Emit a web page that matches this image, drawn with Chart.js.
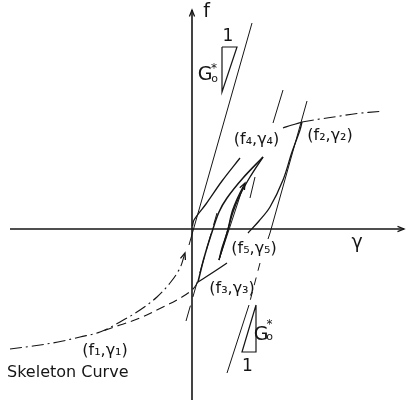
<!DOCTYPE html>
<html>
<head>
<meta charset="utf-8">
<script src="https://cdn.jsdelivr.net/npm/chart.js@4/dist/chart.umd.min.js"></script>
<style>
  html, body { margin: 0; padding: 0; background: #fff; }
  #wrap { width: 408px; height: 414px; }
</style>
</head>
<body>
<div id="wrap"><canvas id="c" width="408" height="414"></canvas></div>
<script>
// Shear strain γ on x, shear stress f on y (drawing units).

// axes
const xAxisLine = [[-18.2, 0], [21.2, 0]];
const yAxisLine = [[0, -17.1], [0, 21.9]];

// skeleton curve: solid branch from the origin up to (f2,γ2)
const skeletonLowA = [[0.05, 0.3], [0.2, 0.9], [1.4, 2.5], [3.0, 4.8], [4.8, 7.1]];
const skeletonLowB = [[9.1, 10.1], [10.0, 10.4], [11.0, 10.7]];
// skeleton curve: dash-dot continuations
const skeletonUpper = [[11.0, 10.7], [12.8, 11.0], [14.5, 11.25], [16.5, 11.55], [18.8, 11.75]];
const skeletonLower = [[-18.2, -12.0], [-15.9, -11.7], [-13.4, -11.3], [-11.2, -10.8], [-9.2, -10.3],
                       [-7.2, -9.3], [-5.2, -8.1], [-3.5, -6.8], [-2.2, -5.4], [-1.2, -3.9], [-0.7, -2.4]];

// unloading from (f2,γ2) to (f3,γ3), then its dashed extension to (f1,γ1)
const unloadF2a = [[11.0, 10.7], [10.8, 9.9], [10.0, 7.7], [9.1, 4.9], [7.8, 2.2], [6.7, 0.8], [5.6, -0.4]];
const unloadF2b = [[3.5, -3.4], [2.0, -4.4], [0.6, -5.3]];
const towardF1  = [[0.6, -5.3], [0.1, -6.0], [-1.0, -6.8], [-2.9, -7.8], [-5.2, -8.9], [-7.2, -9.6], [-9.2, -10.3]];

// reloading (f3) -> (f4), unloading (f4) -> (f5), reloading from (f5)
const reloadF3 = [[0.6, -5.3], [1.2, -2.9], [1.9, -0.6], [2.7, 1.7], [3.5, 3.1], [5.1, 5.1], [7.1, 7.2]];
const unloadF4 = [[7.1, 7.2], [5.8, 5.2], [4.8, 3.4], [4.1, 1.7], [3.5, -0.4], [3.0, -1.9], [2.7, -3.1]];
const reloadF5 = [[2.7, -3.1], [3.6, 0.0], [4.0, 1.7], [4.6, 3.2], [5.3, 4.6]];

// straight lines of initial slope G0*
const g0Origin = [[-0.3, -1.6], [6.0, 20.6]];
const g0F2a = [[11.5, 12.8], [7.8, -0.4]];
const g0F2b = [[7.8, -0.4], [7.6, -1.0]];
const g0F2c = [[6.8, -3.4], [5.7, -7.6]];
const g0F2d = [[5.7, -7.6], [3.5, -14.4]];
const g0F3  = [[-0.6, -9.2], [2.5, 1.6]];
const g0F4a = [[9.1, 13.9], [8.1, 10.6]];
const g0F4b = [[6.3, 5.2], [5.8, 3.1]];
const g0F5  = [[2.7, -3.1], [5.1, 4.2]];

// slope triangles
const slopeTop    = [[3.0, 18.2], [4.5, 18.2], [3.0, 13.7], [3.0, 18.2]];
const slopeBottom = [[6.4, -7.6], [6.4, -12.3], [5.0, -12.3], [6.4, -7.6]];

// text labels
const pointLabels = [
  { text: '(f₄,γ₄)', x: 6.45, y: 8.9 },
  { text: '(f₂,γ₂)', x: 13.8, y: 9.3 },
  { text: '(f₅,γ₅)', x: 6.2,  y: -2.0 },
  { text: '(f₃,γ₃)', x: 4.0,  y: -6.0 },
  { text: '(f₁,γ₁)', x: -8.7, y: -12.2 }
];

const INK = '#151515';
const toXY = arr => arr.map(([x, y]) => ({ x, y }));

function line(points, extra) {
  return Object.assign({
    data: toXY(points),
    showLine: true,
    borderColor: INK,
    backgroundColor: INK,
    borderWidth: 1.3,
    pointRadius: 0,
    pointHoverRadius: 0,
    tension: 0,
    fill: false,
    clip: false
  }, extra || {});
}

const curve = { tension: 0.35 };
const dashDot = [12, 4, 2, 4];

const datasets = [
  line(xAxisLine, { borderWidth: 1.6, arrow: true }),
  line(yAxisLine, { borderWidth: 1.6, arrow: true }),
  line(g0Origin, { borderWidth: 1 }),
  line(skeletonLowA, curve),
  line(skeletonLowB, curve),
  line(skeletonUpper, Object.assign({ borderDash: dashDot, borderWidth: 1.1 }, curve)),
  line(skeletonLower, Object.assign({ borderDash: dashDot, borderWidth: 1.1, arrow: true }, curve)),
  line(unloadF2a, curve),
  line(unloadF2b, curve),
  line(towardF1, Object.assign({ borderDash: [9, 5], borderWidth: 1.1 }, curve)),
  line(reloadF3, Object.assign({ borderWidth: 1.5 }, curve)),
  line(unloadF4, Object.assign({ borderWidth: 1.4 }, curve)),
  line(reloadF5, Object.assign({ arrow: true }, curve)),
  line(g0F2a, { borderWidth: 1 }),
  line(g0F2b, { borderWidth: 1 }),
  line(g0F2c, { borderWidth: 1, borderDash: [8, 7] }),
  line(g0F2d, { borderWidth: 1 }),
  line(g0F3, { borderWidth: 1, borderDash: [16, 9] }),
  line(g0F4a, { borderWidth: 1 }),
  line(g0F4b, { borderWidth: 1 }),
  line(g0F5, { borderWidth: 1 }),
  line(slopeTop, { borderWidth: 1.2 }),
  line(slopeBottom, { borderWidth: 1.2 })
];

// open arrowheads at the last point of flagged datasets
const arrowHeads = {
  id: 'arrowHeads',
  afterDatasetsDraw(chart) {
    const ctx = chart.ctx;
    chart.data.datasets.forEach((d, i) => {
      if (!d.arrow) return;
      const pts = chart.getDatasetMeta(i).data;
      const a = pts[pts.length - 2], b = pts[pts.length - 1];
      const ang = Math.atan2(b.y - a.y, b.x - a.x);
      const len = 7, spread = 0.38;
      ctx.save();
      ctx.strokeStyle = INK;
      ctx.lineWidth = 1.3;
      ctx.beginPath();
      ctx.moveTo(b.x - len * Math.cos(ang - spread), b.y - len * Math.sin(ang - spread));
      ctx.lineTo(b.x, b.y);
      ctx.lineTo(b.x - len * Math.cos(ang + spread), b.y - len * Math.sin(ang + spread));
      ctx.stroke();
      ctx.restore();
    });
  }
};

// axis names, point labels, slope annotations
const textLayer = {
  id: 'textLayer',
  afterDraw(chart) {
    const ctx = chart.ctx;
    const sx = v => chart.scales.x.getPixelForValue(v);
    const sy = v => chart.scales.y.getPixelForValue(v);
    const put = (t, x, y, size, align) => {
      ctx.font = size + 'px "DejaVu Sans"';
      ctx.textAlign = align || 'center';
      ctx.textBaseline = 'middle';
      ctx.fillText(t, sx(x), sy(y));
    };
    ctx.save();
    ctx.fillStyle = INK;
    put('f', 1.45, 21.7, 19);
    put('γ', 16.5, -1.4, 19);
    pointLabels.forEach(l => put(l.text, l.x, l.y, 16));
    put('Skeleton Curve', -18.5, -14.35, 16, 'left');
    // G0* next to each slope triangle
    put('G', 1.3, 15.4, 19);
    put('*', 2.2, 16.0, 12);
    put('o', 2.25, 14.95, 11);
    put('1', 3.6, 19.2, 17);
    put('G', 6.9, -10.6, 19);
    put('*', 7.75, -9.55, 12);
    put('o', 7.75, -10.85, 11);
    put('1', 5.55, -13.75, 17);
    ctx.restore();
  }
};

new Chart(document.getElementById('c'), {
  type: 'scatter',
  data: { datasets },
  options: {
    responsive: false,
    animation: false,
    events: [],
    layout: { padding: 0 },
    plugins: { legend: { display: false }, tooltip: { enabled: false } },
    scales: {
      x: { type: 'linear', min: -19.2, max: 21.6, display: false },
      y: { type: 'linear', min: -18.5, max: 22.9, display: false }
    }
  },
  plugins: [arrowHeads, textLayer]
});
</script>
</body>
</html>
